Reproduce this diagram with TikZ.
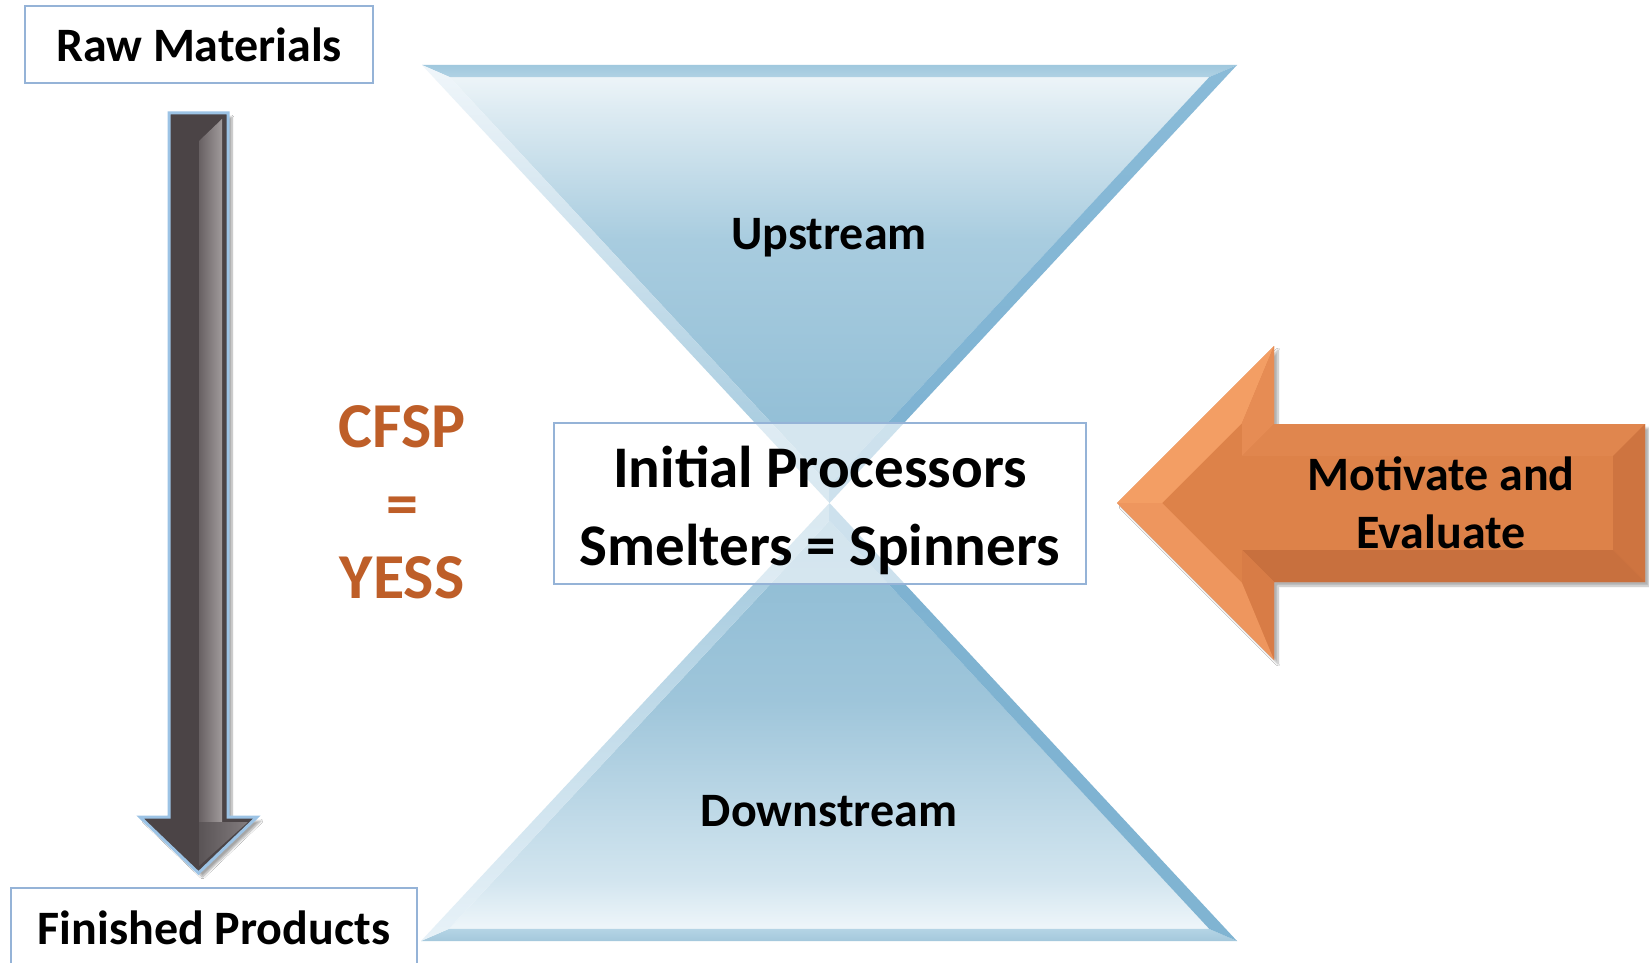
\documentclass[tikz,border=0pt]{standalone}
\usepackage{fontspec}
\setmainfont{Carlito}
\usetikzlibrary{calc,shadows.blur}
\definecolor{boxline}{HTML}{95B3D7}
\definecolor{cfsp}{HTML}{BE5E28}
\definecolor{arrline}{HTML}{9CC3E5}
\definecolor{darkg}{HTML}{4B4446}
\definecolor{orMain}{HTML}{DD8249}
\definecolor{orA}{RGB}{243,158,100}
\definecolor{orB}{RGB}{230,140,84}
\definecolor{orC}{RGB}{224,134,78}
\definecolor{orD}{RGB}{206,116,64}
\definecolor{orE}{RGB}{200,112,62}
\definecolor{orF}{RGB}{216,124,70}
\definecolor{orG}{RGB}{238,150,94}
\definecolor{bA}{HTML}{F0F6F9}
\definecolor{bB}{HTML}{DDEBF2}
\definecolor{bC}{HTML}{A8CCDF}
\definecolor{bD}{HTML}{8BBAD3}
\definecolor{bE}{HTML}{9EC5DA}
\definecolor{bF}{HTML}{D2E5EF}
\definecolor{bG}{HTML}{F2F8FB}
\tikzset{
  lbl/.style={font=\bfseries\fontsize{#1}{#1}\selectfont, inner sep=0pt, anchor=base},
  labelbox/.style={draw=boxline, line width=1.6pt, fill=white, inner sep=0pt},
}
\begin{document}
\begin{tikzpicture}[x=1pt,y=-1pt]
\useasboundingbox (0,0) rectangle (1649,963);
\clip (0,0) rectangle (1649,963);
\fill[white] (0,0) rectangle (1649,963);

% ---------- hourglass ----------
\coordinate (UL) at (422,65);
\coordinate (UR) at (1237,65);
\coordinate (C)  at (829.5,503);
\coordinate (LL) at (421,941);
\coordinate (LR) at (1237,941);
\coordinate (UI) at (829.5,242.5);
\coordinate (LI) at (829.5,763.5);
\coordinate (ul) at ($(UI)!0.932!(UL)$);
\coordinate (ur) at ($(UI)!0.932!(UR)$);
\coordinate (uc) at ($(UI)!0.932!(C)$);
\coordinate (ll) at ($(LI)!0.932!(LL)$);
\coordinate (lr) at ($(LI)!0.932!(LR)$);
\coordinate (lc) at ($(LI)!0.932!(C)$);

% upper triangle
\begin{scope}
\clip (ul) -- (ur) -- (uc) -- cycle;
\shade[top color=bA, bottom color=bB] (400,70) rectangle (1260,110);
\shade[top color=bB, bottom color=bC] (400,110) rectangle (1260,240);
\shade[top color=bC, bottom color=bD] (400,240) rectangle (1260,500);
\end{scope}
\shade[top color={rgb,255:red,160;green,200;blue,222}, bottom color={rgb,255:red,176;green,210;blue,228}] (UL) -- (UR) -- (ur) -- (ul) -- cycle;
\shade[top color={rgb,255:red,240;green,246;blue,250}, bottom color={rgb,255:red,156;green,197;blue,219}] (UL) -- (ul) -- (uc) -- (C) -- cycle;
\shade[top color={rgb,255:red,138;green,187;blue,216}, bottom color={rgb,255:red,124;green,177;blue,209}] (UR) -- (C) -- (uc) -- (ur) -- cycle;

% lower triangle
\begin{scope}
\clip (lc) -- (lr) -- (ll) -- cycle;
\shade[top color=bD, bottom color=bE] (400,505) rectangle (1260,700);
\shade[top color=bE, bottom color=bF] (400,700) rectangle (1260,880);
\shade[top color=bF, bottom color=bG] (400,880) rectangle (1260,935);
\end{scope}
\shade[top color={rgb,255:red,180;green,212;blue,229}, bottom color={rgb,255:red,164;green,200;blue,220}] (LL) -- (LR) -- (lr) -- (ll) -- cycle;
\shade[top color={rgb,255:red,156;green,197;blue,219}, bottom color={rgb,255:red,232;green,242;blue,248}] (C) -- (lc) -- (ll) -- (LL) -- cycle;
\shade[top color={rgb,255:red,126;green,178;blue,209}, bottom color={rgb,255:red,128;green,180;blue,210}] (C) -- (LR) -- (lr) -- (lc) -- cycle;

\node[lbl=48] (up) at (829,249) {Upstream};
\node[lbl=48] (down) at (829,826) {Downstream};

% ---------- centre box ----------
\node[labelbox, fill opacity=0.62, minimum width=532pt, minimum height=161pt] (proc) at (820,503.5) {};
\node[lbl=59] (ip) at (820,487) {Initial Processors};
\node[lbl=59] (ss) at (820,565) {Smelters = Spinners};

% ---------- left column ----------
\node[labelbox, minimum width=348pt, minimum height=77pt] (raw) at (199,44.5) {};
\node[lbl=48] (rawt) at (199,62) {Raw Materials};
\node[labelbox, minimum width=406pt, minimum height=100pt] (fin) at (214,938) {};
\node[lbl=48] (fint) at (214,944) {Finished Products};

% dark arrow
\coordinate (dA) at (169,113);
\coordinate (dB) at (228,113);
\coordinate (dC) at (228,817);
\coordinate (dD) at (257,817);
\coordinate (dE) at (198.5,873);
\coordinate (dF) at (140,817);
\coordinate (dG) at (169,817);
\fill[darkg, blur shadow={shadow blur steps=8, shadow xshift=4pt, shadow yshift=-4pt, shadow opacity=35}] (dA) -- (dB) -- (dC) -- (dD) -- (dE) -- (dF) -- (dG) -- cycle;
\shade[left color={rgb,255:red,104;green,97;blue,99}, right color={rgb,255:red,160;green,154;blue,155}] (199,141) -- (222,119) -- (222,822) -- (199,822) -- cycle;
\shade[left color={rgb,255:red,90;green,84;blue,86}, right color={rgb,255:red,130;green,124;blue,126}] (199,822) -- (248,822) -- (199,866) -- cycle;
\draw[arrline, line width=3pt, line join=miter] (dA) -- (dB) -- (dC) -- (dD) -- (dE) -- (dF) -- (dG) -- cycle;

% CFSP = YESS
\node[lbl=64, text=cfsp] (cf) at (402,447) {CFSP};
\node[lbl=64, text=cfsp] (eq) at (402,525) {=};
\node[lbl=64, text=cfsp] (ye) at (402,598) {YESS};

% ---------- orange arrow ----------
\coordinate (oT) at (1117,503);
\coordinate (oH1) at (1274,346);
\coordinate (oS1) at (1274,424);
\coordinate (oR1) at (1645,424);
\coordinate (oR2) at (1645,582);
\coordinate (oS2) at (1274,582);
\coordinate (oH2) at (1274,660);
\coordinate (iT) at (1162,503);
\coordinate (iH1) at (1242,423);
\coordinate (iS1) at (1242,456);
\coordinate (iR1) at (1613,456);
\coordinate (iR2) at (1613,550);
\coordinate (iS2) at (1242,550);
\coordinate (iH2) at (1242,583);
\fill[orMain, blur shadow={shadow blur steps=8, shadow xshift=4pt, shadow yshift=-4pt, shadow opacity=30}] (oT) -- (oH1) -- (oS1) -- (oR1) -- (oR2) -- (oS2) -- (oH2) -- cycle;
\fill[orMain] (iT) -- (iH1) -- (iS1) -- (iR1) -- (iR2) -- (iS2) -- (iH2) -- cycle;
\fill[orA] (oT) -- (oH1) -- (iH1) -- (iT) -- cycle;
\fill[orB] (oH1) -- (oS1) -- (iS1) -- (iH1) -- cycle;
\fill[orC] (oS1) -- (oR1) -- (iR1) -- (iS1) -- cycle;
\fill[orD] (oR1) -- (oR2) -- (iR2) -- (iR1) -- cycle;
\fill[orE] (oR2) -- (oS2) -- (iS2) -- (iR2) -- cycle;
\fill[orF] (oS2) -- (oH2) -- (iH2) -- (iS2) -- cycle;
\fill[orG] (oH2) -- (oT) -- (iT) -- (iH2) -- cycle;
\node[lbl=48] (mo) at (1441,490) {Motivate and};
\node[lbl=48] (ev) at (1441,548) {Evaluate};
\end{tikzpicture}
\end{document}
